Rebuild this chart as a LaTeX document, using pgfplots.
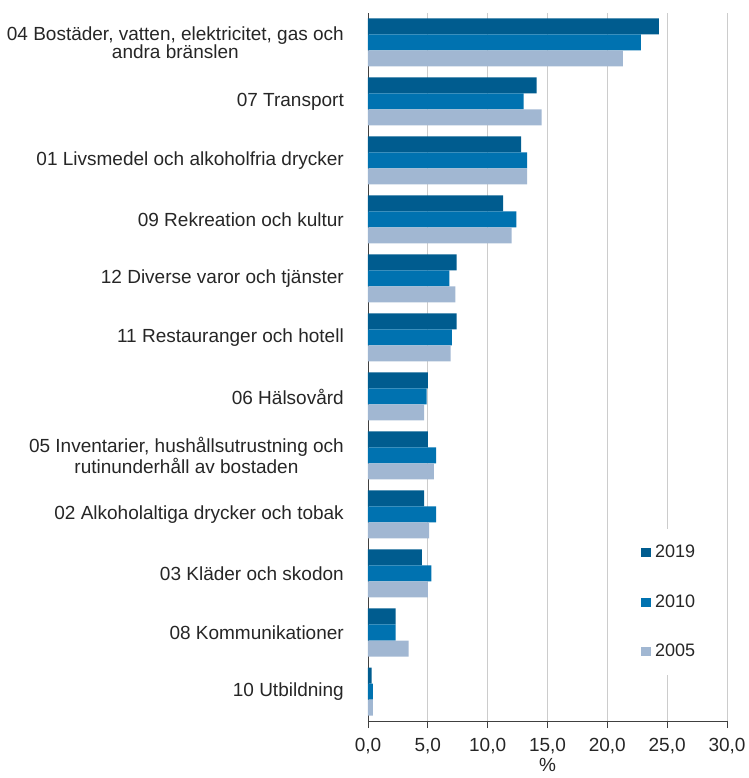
\documentclass[border=0pt]{standalone}
\usepackage{pgfplots}
\pgfplotsset{compat=1.18}
\usepackage{fontspec}
\setmainfont{Liberation Sans}
\definecolor{c19}{HTML}{005C8F}
\definecolor{c10}{HTML}{0072B0}
\definecolor{c05}{HTML}{A1B7D2}
\definecolor{txt}{HTML}{262626}
\begin{document}
\fontsize{19bp}{18.4bp}\selectfont
\begin{tikzpicture}
\useasboundingbox (-368bp,-57bp) rectangle (381bp,721bp);
\begin{axis}[
  at={(0,0)}, anchor=south west,
  scale only axis, width=359bp, height=708bp,
  xbar, bar width=16bp,
  xmin=0, xmax=30, ymin=-0.5, ymax=11.5,
  xtick={0,5,...,30},
  ytick={0,...,11},
  yticklabels={10 Utbildning,
    08 Kommunikationer,
    03 Kläder och skodon,
    02 Alkoholaltiga drycker och tobak,
    {05 Inventarier, hushållsutrustning och\\rutinunderhåll av bostaden},
    06 Hälsovård,
    11 Restauranger och hotell,
    12 Diverse varor och tjänster,
    09 Rekreation och kultur,
    01 Livsmedel och alkoholfria drycker,
    07 Transport,
    {04 Bostäder, vatten, elektricitet, gas och\\andra bränslen}},
  yticklabel style={align=center, inner sep=0pt, xshift=-17bp, text=txt},
  xticklabel style={text=txt, inner sep=0pt, yshift=-10bp},
  axis x line*=bottom, axis y line*=left,
  axis line style={black!75, line width=0.8bp, -},
  xmajorgrids, major grid style={black!20, line width=0.8bp},
  x tick style={black!75, line width=0.8bp},
  tick align=outside, major tick length=7bp,
  y tick style={draw=none},
  xlabel={\%}, xlabel style={text=txt, inner sep=0pt, yshift=-4bp},
  /pgf/number format/.cd, fixed, fixed zerofill, precision=1, use comma, assume math mode=true, /pgfplots/.cd,
  legend style={at={(0.7214,0.2712)}, anchor=north west, draw=none, fill=white,
    row sep=30bp, text=txt, inner sep=14bp, font=\fontsize{18bp}{18bp}\selectfont,
    /tikz/every odd column/.append style={column sep=2bp}},
  legend cell align=left,
]
\addplot[fill=c19, draw=none, bar shift=16bp,
  legend image code/.code={\fill[c19] (0bp,-4.5bp) rectangle (10bp,4.5bp);}]
  coordinates {(0.3,0) (2.3,1) (4.5,2) (4.7,3) (5.0,4) (5.0,5) (7.4,6) (7.4,7) (11.3,8) (12.8,9) (14.1,10) (24.3,11)};
\addplot[fill=c10, draw=none, bar shift=0bp,
  legend image code/.code={\fill[c10] (0bp,-4.5bp) rectangle (10bp,4.5bp);}]
  coordinates {(0.4,0) (2.3,1) (5.3,2) (5.7,3) (5.7,4) (4.9,5) (7.0,6) (6.8,7) (12.4,8) (13.3,9) (13.0,10) (22.8,11)};
\addplot[fill=c05, draw=none, bar shift=-16bp,
  legend image code/.code={\fill[c05] (0bp,-4.5bp) rectangle (10bp,4.5bp);}]
  coordinates {(0.4,0) (3.4,1) (5.0,2) (5.1,3) (5.5,4) (4.7,5) (6.9,6) (7.3,7) (12.0,8) (13.3,9) (14.5,10) (21.3,11)};
\legend{2019,2010,2005}
\end{axis}
\end{tikzpicture}
\end{document}
